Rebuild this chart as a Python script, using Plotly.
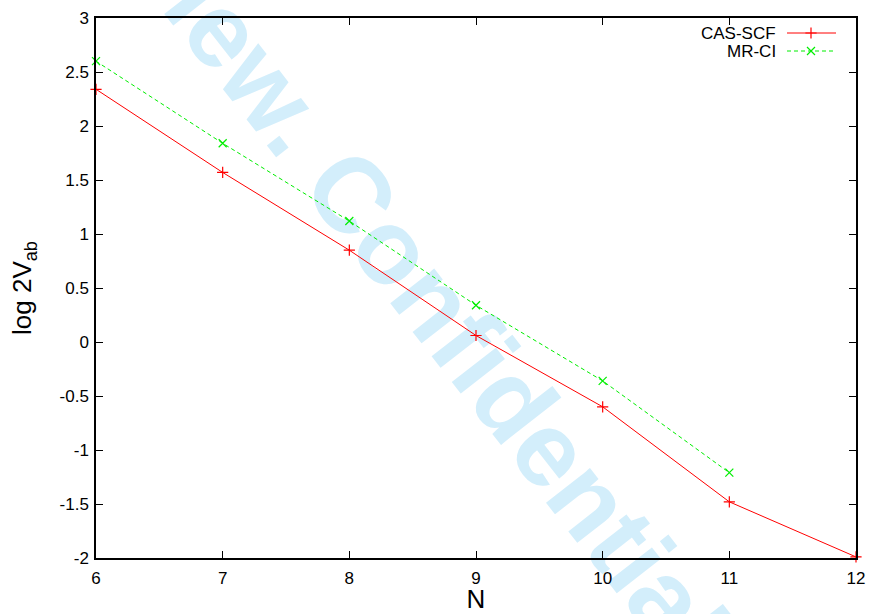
import plotly.graph_objects as go

# Number of sites N and log(2 V_ab) for the two methods
n_cas = [6, 7, 8, 9, 10, 11, 12]
cas_scf = [2.34, 1.57, 0.85, 0.06, -0.60, -1.48, -1.99]
n_mrci = [6, 7, 8, 9, 10, 11]
mr_ci = [2.60, 1.84, 1.12, 0.34, -0.36, -1.21]

x_ticks = [6, 7, 8, 9, 10, 11, 12]
y_ticks = [-2, -1.5, -1, -0.5, 0, 0.5, 1, 1.5, 2, 2.5, 3]
y_tick_text = ["-2", "-1.5", "-1", "-0.5", "0", "0.5", "1", "1.5", "2", "2.5", "3"]

RED = "#ff0000"
GREEN = "#00ee00"
FONT = "Liberation Sans"

W, H = 870, 614
L, R, T, B = 96, 14, 18, 56

fig = go.Figure()

fig.add_trace(go.Scatter(
    x=n_cas, y=cas_scf, mode="lines+markers", name="CAS-SCF",
    line=dict(color=RED, width=1),
    marker=dict(symbol="cross-thin", size=8, line=dict(color=RED, width=1.2)),
    cliponaxis=False,
))
fig.add_trace(go.Scatter(
    x=n_mrci, y=mr_ci, mode="lines+markers", name="MR-CI",
    line=dict(color=GREEN, width=1, dash="4px,3px"),
    marker=dict(symbol="x-thin", size=8, line=dict(color=GREEN, width=1.2)),
    cliponaxis=False,
))

# Key in the top-right corner, drawn in pixel-like overlay coordinates
key_rows = [("CAS-SCF", 33, RED, "solid", "cross-thin"),
            ("MR-CI", 51, GREEN, "4px,3px", "x-thin")]
for label, ky, col, dash, sym in key_rows:
    fig.add_trace(go.Scatter(
        x=[787, 836], y=[ky, ky], mode="lines", xaxis="x2", yaxis="y2",
        line=dict(color=col, width=1, dash=dash), showlegend=False, hoverinfo="skip",
    ))
    fig.add_trace(go.Scatter(
        x=[811], y=[ky], mode="markers", xaxis="x2", yaxis="y2",
        marker=dict(symbol=sym, size=8, line=dict(color=col, width=1.2)),
        showlegend=False, hoverinfo="skip",
    ))
    fig.add_annotation(
        x=778, y=ky, xref="x2", yref="y2", text=label, showarrow=False,
        xanchor="right", yanchor="middle",
        font=dict(family=FONT, size=17, color="black"),
    )

# Diagonal watermark behind the axes
cx, cy = 384, 219
fig.add_shape(
    type="rect", xref="paper", yref="paper",
    x0=(cx - 96) / 760 - 0.001, x1=(cx - 96) / 760 + 0.001,
    y0=(558 - cy) / 540 - 0.001, y1=(558 - cy) / 540 + 0.001,
    line=dict(width=0, color="rgba(0,0,0,0)"), fillcolor="rgba(0,0,0,0)",
    layer="below",
    label=dict(text="<b>Preview. Confidential</b>", textangle=52,
               textposition="middle center",
               font=dict(family=FONT, size=106, color="#d3eefb")),
)

axis_common = dict(
    showline=True, linecolor="black", linewidth=1.5, mirror="ticks",
    ticks="inside", ticklen=7, tickwidth=1, tickcolor="black",
    showgrid=False, zeroline=False, automargin=False,
    tickfont=dict(family=FONT, size=17, color="black"),
)

fig.update_layout(
    width=W, height=H,
    margin=dict(l=L, r=R, t=T, b=B),
    paper_bgcolor="white", plot_bgcolor="rgba(0,0,0,0)",
    showlegend=False,
    xaxis=dict(
        range=[6, 12], tickvals=x_ticks, ticktext=[str(v) for v in x_ticks],
        ticklabelstandoff=4,
        title=dict(text="N", font=dict(family=FONT, size=26, color="black"), standoff=6),
        **axis_common,
    ),
    yaxis=dict(
        range=[-2, 3], tickvals=y_ticks, ticktext=y_tick_text,
        ticklabelstandoff=2,
        title=dict(text="log 2V<sub>ab</sub>", font=dict(family=FONT, size=26, color="black"), standoff=20),
        **axis_common,
    ),
    xaxis2=dict(range=[96, 856], overlaying="x", visible=False, fixedrange=True),
    yaxis2=dict(range=[558, 18], overlaying="y", visible=False, fixedrange=True),
)

fig.write_html("out.html")
